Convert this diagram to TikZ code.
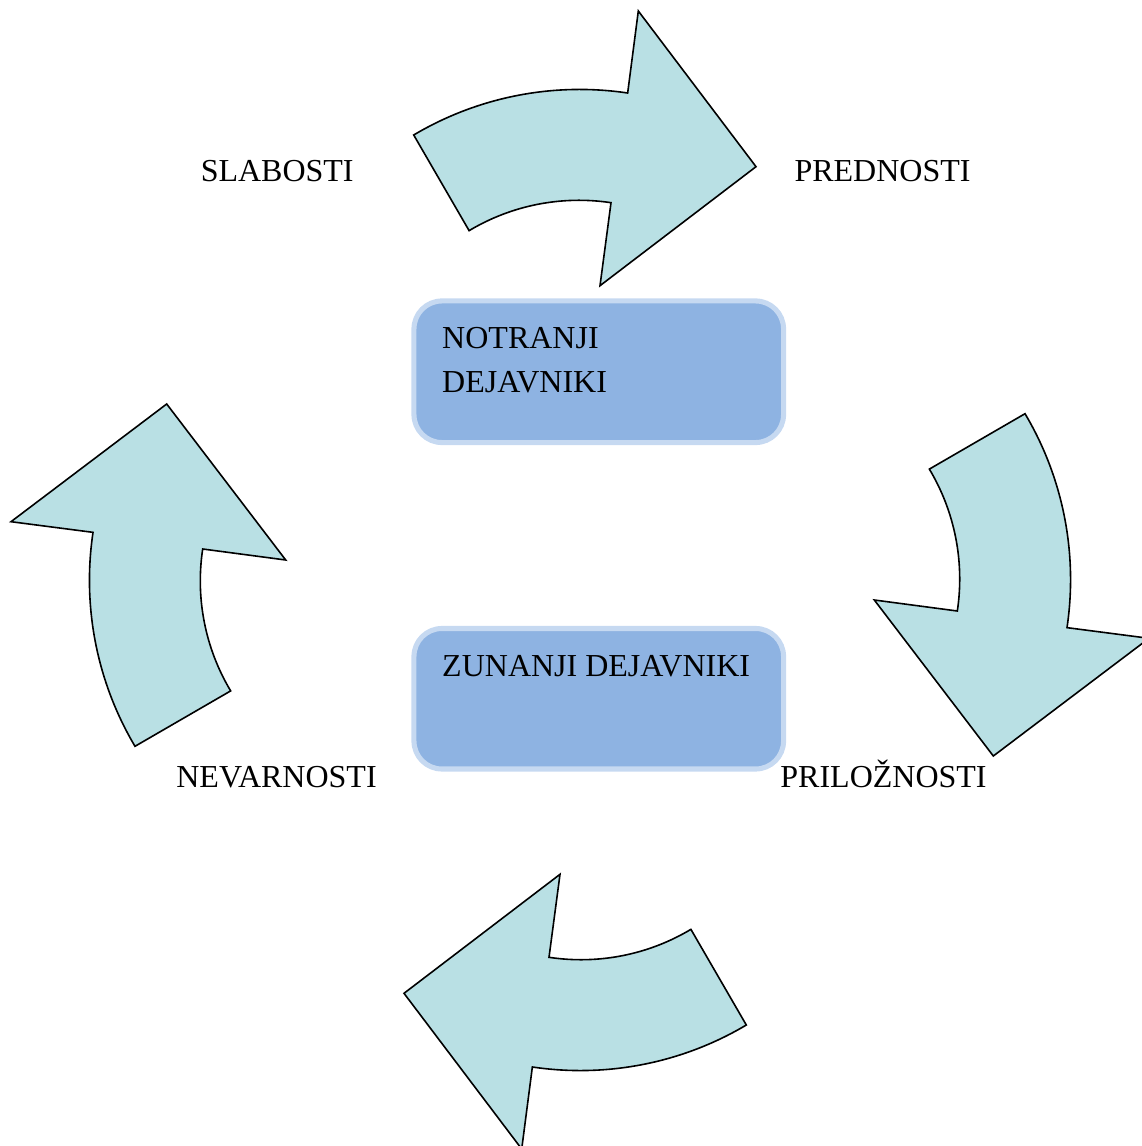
\documentclass[tikz,border=0pt]{standalone}
\usepackage{fontspec}
\setmainfont{Liberation Serif}
\definecolor{arrowfill}{HTML}{B9E0E4}
\definecolor{boxfill}{HTML}{8EB3E2}
\definecolor{boxedge}{HTML}{C6D9F1}

\tikzset{
  % one curved block arrow of the cycle, drawn about the centre of the cycle
  cyclearrow/.pic={
    \draw[arrowshape]
      (-166.3,445) arc[start angle=120.7, end angle=81.5, radius=325]
      -- (58.3,569) -- (176,413.3) -- (20,294.3)
      -- (31,377.3) arc[start angle=81.4, end angle=120.9, radius=214]
      -- cycle;
  }
}

\begin{document}
\begin{tikzpicture}[x=0.375pt, y=0.375pt,
  arrowshape/.style={fill=arrowfill, draw=black, line width=0.6pt, line join=miter},
  factorbox/.style={draw=boxedge, fill=boxfill, line width=1.9pt,
    rounded corners=10.5pt, minimum width=138.6pt, inner sep=0pt},
  lbl/.style={font=\fontsize{12}{14.4}\selectfont, inner sep=0pt, anchor=base},
  boxtext/.style={font=\fontsize{12}{16.5}\selectfont, inner sep=0pt,
    anchor=base west, align=left}
]
\useasboundingbox (0,0) rectangle (1141,-1146);

% the four arrows of the cycle
\coordinate (hub) at (580,-580);
\pic at (hub) {cyclearrow};
\pic[rotate=-90] at (hub) {cyclearrow};
\pic[rotate=180] at (hub) {cyclearrow};
\pic[rotate=90] at (hub) {cyclearrow};

% internal and external factors
\node[factorbox, minimum height=53.1pt] (internal) at (598.75,-371.75) {};
\node[factorbox, minimum height=52.7pt] (external) at (598.75,-698.75) {};
% a two-line node sits on the baseline of its last line
\node[boxtext] (internaltext) at (441.7,-392.3) {NOTRANJI\\DEJAVNIKI};
\node[boxtext] (externaltext) at (441.7,-676) {ZUNANJI DEJAVNIKI};

% SWOT labels
\node[lbl] (weak) at (277.2,-182) {SLABOSTI};
\node[lbl] (strong) at (882.5,-182) {PREDNOSTI};
\node[lbl] (threat) at (276.5,-787) {NEVARNOSTI};
\node[lbl] (chance) at (883.5,-787) {PRILOŽNOSTI};
\end{tikzpicture}
\end{document}
